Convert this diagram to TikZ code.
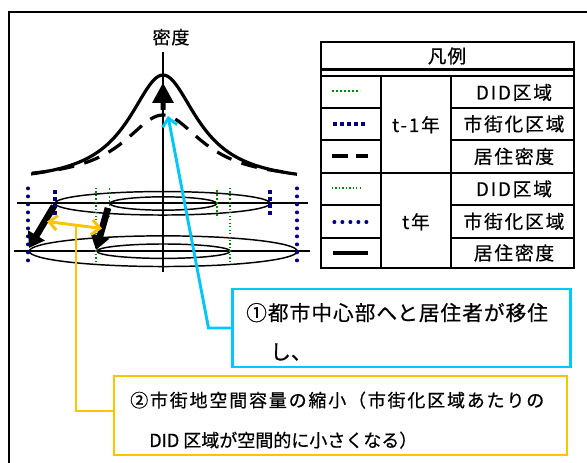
\documentclass[tikz,border=0pt]{standalone}
\usepackage{fontspec}
\setmainfont[FakeBold=0.6]{Noto Sans CJK JP}
\newfontfamily\jpten[LetterSpace=10,FakeBold=0.6]{Noto Sans CJK JP}
\newfontfamily\jpfive[LetterSpace=5,FakeBold=0.6]{Noto Sans CJK JP}
\usetikzlibrary{arrows.meta}
\definecolor{dgreen}{RGB}{0,140,0}
\definecolor{dnavy}{RGB}{0,0,140}
\definecolor{cyanb}{RGB}{0,200,250}
\definecolor{goldy}{RGB}{255,196,0}
\tikzset{
  frameline/.style={line width=1.5pt},
  tabline/.style={line width=2.2pt},
  legtxt/.style={inner sep=0pt, anchor=base, font=\jpten\fontsize{14pt}{16pt}\selectfont},
  axisline/.style={line width=1.5pt},
  ell/.style={line width=1.1pt},
  navyA/.style={dnavy, line width=2.8pt, dash pattern=on 2.8pt off 2.5pt},
  navyB/.style={dnavy, line width=2.3pt, line cap=round, dash pattern=on 0.6pt off 5.4pt},
  greenA/.style={dgreen, line width=1.4pt, dash pattern=on 1.4pt off 1.6pt},
  greenB/.style={dgreen, line width=0.9pt, dash pattern=on 0.9pt off 1.7pt},
  curveline/.style={line width=2.4pt},
  dashcurve/.style={line width=2.4pt, dash pattern=on 12pt off 8pt},
  fatarrow/.style={line width=5pt, -{Triangle[length=11pt,width=14pt]}},
  cyanbox/.style={draw=cyanb, line width=2.2pt, minimum width=253.5pt, minimum height=58.5pt, inner sep=0pt},
  goldbox/.style={draw=goldy, line width=2.2pt, minimum width=339.75pt, minimum height=59.25pt, inner sep=0pt},
  cyanline/.style={cyanb, line width=2.2pt},
  goldline/.style={goldy, line width=2.2pt},
  boxtxtA/.style={inner sep=0pt, anchor=base west, font=\jpfive\fontsize{15.5pt}{18pt}\selectfont},
  boxtxtB/.style={inner sep=0pt, anchor=base west, font=\fontsize{15.5pt}{18pt}\selectfont},
  boxtxtC/.style={inner sep=0pt, anchor=base west, font=\jpten\fontsize{13.5pt}{16pt}\selectfont},
  boxtxtD/.style={inner sep=0pt, anchor=base west, font=\fontsize{13.5pt}{16pt}\selectfont},
}
\begin{document}
\begin{tikzpicture}[x=0.75pt,y=-0.75pt]
\useasboundingbox (0,0) rectangle (587,463);
% outer frame (cut by the picture edge)
\draw[frameline] (9,470) -- (9,12) -- (595,12);

% ---------- legend table ----------
\draw[tabline] (321,42) rectangle (574,268);
\draw[tabline] (321,69.5) -- (574,69.5);
\draw[tabline] (321,76) -- (574,76);
\draw[tabline] (381,76) -- (381,268);
\draw[tabline] (451,76) -- (451,268);
\foreach \yy in {108,140,205,238}{
  \draw[tabline] (321,\yy) -- (381,\yy);
  \draw[tabline] (451,\yy) -- (574,\yy);
}
\draw[tabline] (321,173) -- (574,173);
\node[legtxt, font=\jpfive\fontsize{14pt}{16pt}\selectfont] (lh) at (447,63) {凡例};
\node[legtxt] (ly1) at (416,132) {t-1年};
\node[legtxt] (ly2) at (416,229) {t年};
\node[legtxt] (l1) at (514,99.5) {DID区域};
\node[legtxt] (l2) at (514,131) {市街化区域};
\node[legtxt] (l3) at (514,163.5) {居住密度};
\node[legtxt] (l4) at (514,196) {DID区域};
\node[legtxt] (l5) at (514,228.5) {市街化区域};
\node[legtxt] (l6) at (514,260) {居住密度};
% legend samples
\draw[greenA] (332,91) -- (360,91);
\draw[navyA] (333,124) -- (366,124);
\draw[line width=2.4pt, dash pattern=on 12pt off 6pt] (332,156) -- (368,156);
\draw[greenB] (332,188) -- (363,188);
\draw[navyB] (334,222) -- (367,222);
\draw[line width=2.4pt] (333,253) -- (368,253);

% ---------- diagram ----------
\node[inner sep=0pt, anchor=base, font=\jpfive\fontsize{13.5pt}{16pt}\selectfont] (dens) at (171,44) {密度};
\draw[axisline] (163,52) -- (163,272);
\draw[axisline] (17,203.3) -- (308,203.3);
\draw[axisline] (14,251) -- (310,251);

% density curves
\draw[curveline] plot[domain=-132:134, samples=120] ({163+\x},{75+109*(1-1/(1+(\x/42)^2))});
\draw[dashcurve] plot[domain=-131:131, samples=120] ({163+\x},{115+66*(1-1/(1+(\x/48)^2))});

% up arrow
\fill (160.5,110) -- (160.5,103) -- (152,103) -- (163,83) -- (174,103) -- (165.5,103) -- (165.5,110) -- cycle;

% ellipses
\draw[ell] (162.5,203.3) ellipse [x radius=80.6pt, y radius=8.8pt];
\draw[ell] (163.3,203.5) ellipse [x radius=40pt, y radius=5pt];
\draw[ell] (163.3,251.2) ellipse [x radius=100.5pt, y radius=11.5pt];
\draw[ell] (163.5,251.2) ellipse [x radius=50pt, y radius=5.4pt];

% boundaries
\draw[navyA] (55,190) -- (55,217);
\draw[navyA] (270,190) -- (270,217);
\draw[navyB] (28,188) -- (28,263);
\draw[navyB] (297,188) -- (297,263);
\draw[greenA] (109.5,188) -- (109.5,217);
\draw[greenA] (217,190) -- (217,218);
\draw[greenB] (96,188) -- (96,263);
\draw[greenB] (230,188) -- (230,263);

% shrink arrows
\coordinate (fa1s) at (54,206);
\coordinate (fa1e) at (29,248);
\coordinate (fa2s) at (108,208);
\coordinate (fa2e) at (96,250);
\draw[fatarrow] (fa1s) -- (fa1e);
\draw[fatarrow] (fa2s) -- (fa2e);

% yellow double arrow
\coordinate (ya) at (47,221.5);
\coordinate (yb) at (102,228.5);
\draw[goldline, {Straight Barb[length=6pt,width=11pt]}-{Straight Barb[length=6pt,width=11pt]}] (ya) -- (yb);
\coordinate (yelmid) at (76,225);
\coordinate (ybend) at (76,411);

% callout boxes
\node[cyanbox] (box1) at (401.5,328) {};
\node[goldbox] (box2) at (340.5,415.5) {};
\node[boxtxtA] (t1a) at (246,320.5) {①都市中心部へと居住者が移住};
\node[boxtxtB] (t1b) at (270,359.5) {し、};
\node[boxtxtC] (t2a) at (130,407) {②市街地空間容量の縮小（市街化区域あたりの};
\node[boxtxtD] (t2b) at (149,447) {DID 区域が空間的に小さくなる）};

% connectors
\coordinate (cyantip) at (168,116);
\coordinate (cbend) at (208.5,328);
\draw[cyanline, -{Straight Barb[length=6pt,width=11pt]}] (box1.west) -- (cbend) -- (cyantip);
\draw[goldline] (yelmid) -- (ybend) -- (ybend -| box2.west);
\end{tikzpicture}
\end{document}
